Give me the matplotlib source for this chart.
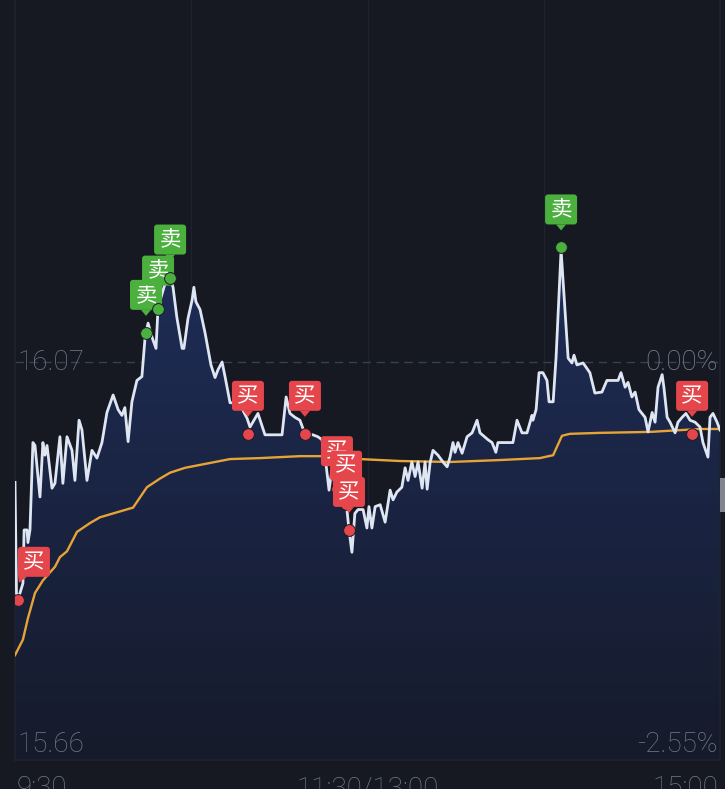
import numpy as np
import matplotlib
matplotlib.use("Agg")
import matplotlib.pyplot as plt
import matplotlib.patches as mpatches
from matplotlib.colors import LinearSegmentedColormap
from matplotlib.transforms import IdentityTransform, blended_transform_factory

W, H, DPI = 725, 789, 100

# minutes since 9:30 (lunch break squeezed out), last price
price_t = [0, 0.5, 1.0, 2.7, 3.1, 4.1, 4.4, 5.1, 6.1, 6.8, 8.5, 9.5, 10.2, 10.9, 12.6, 13.6,
           15.3, 16.3, 17.7, 19.4, 20.4, 21.8, 22.8, 24.5, 26.2, 27.9, 29.6, 31.3, 33.4, 35.1,
           36.4, 37.4, 38.5, 39.8, 41.5, 43.2, 44.3, 45.3, 46.6, 48.0, 48.7, 51.1, 52.8, 53.8,
           55.1, 56.9, 57.5, 58.9, 60.3, 60.9, 61.6, 63.0, 64.7, 66.7, 68.1, 69.1, 70.5, 71.5,
           73.2, 74.9, 76.6, 79.0, 80.0, 82.7, 85.1, 90.9, 92.3, 93.6, 95.3, 97.0, 98.7, 101.4,
           103.1, 104.5, 105.9, 106.9, 107.9, 109.3, 110.6, 112.0, 113.0, 113.7, 114.7, 115.7,
           116.8, 118.5, 119.8, 120.5, 121.5, 122.6, 124.3, 126.0, 127.7, 128.7, 130.0, 131.7,
           132.8, 133.8, 135.1, 136.2, 137.2, 138.6, 139.6, 140.3, 141.3, 142.3, 144.0, 145.7,
           147.1, 148.1, 149.1, 149.8, 150.8, 152.2, 153.9, 155.6, 157.3, 158.3, 161.0, 162.4,
           163.7, 164.4, 169.5, 170.9, 172.6, 174.3, 176.0, 176.3, 177.4, 178.4, 179.7, 181.1,
           181.8, 183.2, 184.2, 185.9, 187.2, 188.3, 189.6, 190.3, 191.3, 193.4, 195.7, 197.4,
           199.8, 201.5, 205.3, 206.3, 207.7, 208.7, 210.0, 211.1, 212.4, 214.5, 215.5, 216.9,
           217.9, 218.9, 220.3, 220.9, 222.0, 223.0, 224.7, 225.7, 227.1, 228.4, 229.8, 231.5,
           233.2, 234.2, 235.9, 236.6, 237.6, 239.0, 240.0]
price_v = [15.946, 15.832, 15.825, 15.842, 15.897, 15.897, 15.884, 15.897, 15.987, 15.984,
           15.931, 15.987, 15.974, 15.984, 15.940, 15.945, 15.993, 15.945, 15.993, 15.979,
           15.948, 16.010, 16.000, 15.948, 15.979, 15.971, 15.987, 16.018, 16.036, 16.021,
           16.015, 16.023, 15.988, 16.029, 16.051, 16.055, 16.096, 16.110, 16.096, 16.084,
           16.126, 16.151, 16.157, 16.147, 16.116, 16.084, 16.084, 16.115, 16.134, 16.147,
           16.132, 16.124, 16.100, 16.067, 16.054, 16.062, 16.070, 16.055, 16.028, 16.028,
           16.026, 16.012, 16.003, 16.017, 15.995, 15.995, 16.034, 16.017, 16.013, 16.010,
           15.996, 15.995, 15.993, 15.990, 15.964, 15.938, 15.959, 15.950, 15.943, 15.928,
           15.918, 15.897, 15.874, 15.914, 15.918, 15.918, 15.899, 15.921, 15.899, 15.921,
           15.923, 15.905, 15.938, 15.928, 15.936, 15.941, 15.961, 15.948, 15.967, 15.952,
           15.967, 15.940, 15.967, 15.939, 15.966, 15.979, 15.974, 15.967, 15.962, 15.972,
           15.987, 15.977, 15.987, 15.976, 15.993, 15.997, 16.010, 15.997, 15.990, 15.987,
           15.977, 15.987, 15.987, 16.010, 15.997, 15.997, 16.015, 16.010, 16.021, 16.059,
           16.059, 16.051, 16.029, 16.029, 16.075, 16.185, 16.124, 16.074, 16.069, 16.077,
           16.067, 16.069, 16.059, 16.038, 16.039, 16.051, 16.051, 16.059, 16.044, 16.049,
           16.034, 16.039, 16.021, 16.013, 15.998, 16.018, 16.008, 16.044, 16.057, 16.044,
           16.013, 16.008, 15.997, 16.008, 16.013, 16.017, 16.010, 16.008, 16.003, 15.987,
           15.972, 16.013, 16.017, 16.008, 16.000]

# average price line
avg_t = [0, 2.7, 4.4, 6.8, 9.5, 13.6, 15.3, 17.7, 21.1, 25.5, 28.9, 33.4, 40.2, 44.9, 49.4,
         52.8, 57.9, 63.0, 73.2, 83.4, 97.0, 103.8, 117.4, 131.1, 148.1, 165.1, 178.7, 183.2,
         186.2, 188.9, 199.1, 216.2, 233.2, 240.0]
avg_v = [15.768, 15.784, 15.806, 15.832, 15.845, 15.859, 15.869, 15.875, 15.895, 15.904,
         15.910, 15.914, 15.920, 15.941, 15.950, 15.956, 15.961, 15.964, 15.970, 15.971,
         15.973, 15.973, 15.970, 15.968, 15.967, 15.969, 15.971, 15.974, 15.994, 15.996,
         15.997, 15.998, 16.001, 16.001]

# trade signals
buy_t = [1.0, 79.3, 98.7, 109.6, 112.7, 113.7, 230.5]
buy_v = [15.825, 15.996, 15.996, 15.939, 15.924, 15.897, 15.996]
sell_t = [44.6, 48.7, 52.8, 185.9]
sell_v = [16.100, 16.125, 16.157, 16.188]

prev_close = 16.07
y_low, y_high = 15.66, 16.48
left_labels = ["16.48", "16.07", "15.66"]
right_labels = ["2.55%", "0.00%", "-2.55%"]
time_pos = [0, 120, 240]
time_labels = ["9:30", "11:30/13:00", "15:00"]

BG = "#161922"
GRID = "#1f2330"
LABEL = "#717989"
RED = "#e5464b"
GREEN = "#4cb03e"

plt.rcParams['font.family'] = ['Roboto', 'Noto Sans CJK SC', 'DejaVu Sans']

fig = plt.figure(figsize=(W / DPI, H / DPI), dpi=DPI, facecolor=BG)
# the axes runs a bit above the top of the picture (screenshot crop)
ax = fig.add_axes([15 / W, 29 / H, 705 / W, 796 / H])
ax.set_facecolor(BG)
ax.set_xlim(0, 240)
ax.set_ylim(y_low, y_high)
for s in ax.spines.values():
    s.set_color(GRID)
    s.set_linewidth(1.2)
ax.set_xticks([])
ax.set_yticks([])
for t in [60, 120, 180]:
    ax.axvline(t, color=GRID, lw=1.0, zorder=0.5)
ax.axhline(prev_close, color="#373f52", lw=1.0, dashes=(6, 4), zorder=0.6)

# gradient area under the price line
fill = ax.fill_between(price_t, price_v, y_low, facecolor='none', edgecolor='none')
clip = mpatches.PathPatch(fill.get_paths()[0], facecolor='none', edgecolor='none',
                          transform=ax.transData)
ax.add_patch(clip)
cmap = LinearSegmentedColormap.from_list('area', ['#161b2b', '#1a2442', '#1f2d57'])
grad = np.linspace(0, 1, 256).reshape(-1, 1)
im = ax.imshow(grad, extent=[0, 240, y_low, max(price_v)], origin='lower',
               aspect='auto', cmap=cmap, zorder=1)
im.set_clip_path(clip)
ax.set_xlim(0, 240)
ax.set_ylim(y_low, y_high)

ax.plot(avg_t, avg_v, color="#e8a337", lw=1.7, zorder=3, solid_joinstyle='round')
ax.plot(price_t, price_v, color="#dfe6f3", lw=2.0, zorder=4, solid_joinstyle='round')

# axis labels
for val, ltxt, rtxt, dy in zip([y_high, prev_close, y_low], left_labels, right_labels, [-26, 0, 16]):
    ax.annotate(ltxt, (0, val), xytext=(2, dy), textcoords='offset pixels',
                ha='left', va='center', fontsize=20, fontweight='light', color=LABEL, zorder=6)
    ax.annotate(rtxt, (240, val), xytext=(-2, dy), textcoords='offset pixels',
                ha='right', va='center', fontsize=20, fontweight='light',
                color=LABEL if val != prev_close else "#7d8494", zorder=6)
tr = blended_transform_factory(ax.transData, ax.transAxes)
for pos, txt, ha, dx in zip(time_pos, time_labels, ['left', 'center', 'right'], [0.6, 0, -0.6]):
    ax.text(pos + dx, -0.036, txt, transform=tr, ha=ha, va='center', fontsize=20,
            fontweight='light', color=LABEL, clip_on=False)

# small grey handle at the right edge
fig.patches.append(mpatches.Rectangle((720, H - 512), 6, 34, transform=IdentityTransform(),
                                      facecolor="#80858f", edgecolor='none', figure=fig))

idt = IdentityTransform()
z = [10.0]


def tag(t, v, label, color, edge=False):
    x, y = ax.transData.transform((t, v))
    ax.scatter([t], [v], s=72, color=color, edgecolors="#1a1d26", linewidths=0.7, zorder=z[0])
    cy = y + 38
    if edge:
        left = x
        tail = [(left, cy - 13), (left + 9, cy - 15), (left + 1, cy - 21)]
    else:
        left = x - 16
        tail = [(x - 5, cy - 15), (x + 5, cy - 15), (x, cy - 21)]
    box = mpatches.FancyBboxPatch((left, cy - 15), 32, 30,
                                  boxstyle='round,pad=0,rounding_size=3',
                                  transform=idt, facecolor=color, edgecolor='none',
                                  zorder=z[0] + 0.01, clip_on=False)
    ax.add_patch(box)
    ax.add_patch(mpatches.Polygon(tail, closed=True, transform=idt, facecolor=color,
                                  edgecolor='none', zorder=z[0] + 0.01, clip_on=False))
    ax.text(left + 16, cy, label, transform=idt, ha='center', va='center', fontsize=15.5,
            color='white', family=['Noto Sans CJK SC', 'DejaVu Sans'],
            zorder=z[0] + 0.02, clip_on=False)
    z[0] += 0.1


for i, (t, v) in enumerate(zip(buy_t, buy_v)):
    tag(t, v, "买", RED, edge=(i == 0))
for t, v in zip(sell_t, sell_v):
    tag(t, v, "卖", GREEN)

fig.savefig("out.png", dpi=DPI, facecolor=BG)
